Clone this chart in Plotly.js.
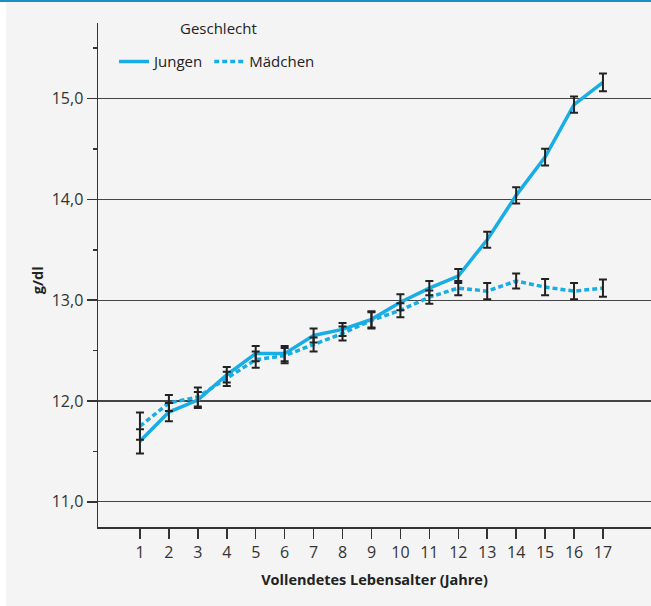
<!DOCTYPE html>
<html>
<head>
<meta charset="utf-8">
<script src="https://cdn.plot.ly/plotly-3.0.1.min.js"></script>
<style>
  html, body { margin:0; padding:0; background:#ffffff; width:651px; height:606px; overflow:hidden; }
  #topline { position:absolute; left:0; top:0; width:651px; height:2px; background:#1b8fc4; }
  #chart { position:absolute; left:6px; top:2px; width:645px; height:604px; }
</style>
</head>
<body>
<div id="topline"></div>
<div id="chart"></div>
<script>
const ages = [1,2,3,4,5,6,7,8,9,10,11,12,13,14,15,16,17];
const jungen = [11.60, 11.89, 12.01, 12.26, 12.47, 12.47, 12.65, 12.71, 12.81, 12.98, 13.12, 13.24, 13.60, 14.04, 14.42, 14.94, 15.16];
const jungenErr = [0.12, 0.09, 0.08, 0.077, 0.075, 0.075, 0.07, 0.065, 0.08, 0.08, 0.07, 0.07, 0.08, 0.08, 0.083, 0.08, 0.088];
const maedchen = [11.75, 11.98, 12.04, 12.22, 12.41, 12.45, 12.56, 12.67, 12.80, 12.90, 13.03, 13.12, 13.09, 13.19, 13.13, 13.09, 13.12];
const maedchenErr = [0.135, 0.08, 0.095, 0.07, 0.08, 0.075, 0.07, 0.07, 0.08, 0.07, 0.065, 0.07, 0.08, 0.075, 0.08, 0.08, 0.085];
const xTicks = ages;
const yTicks = [11, 12, 13, 14, 15];

const lineColor = '#19ade6';
const errColor = '#222222';
const FONT = 'Open Sans, Noto Sans, sans-serif';

const traces = [
  { x: ages, y: jungen, name: 'Jungen', type: 'scatter', mode: 'lines',
    line: { color: lineColor, width: 3.5 } },
  { x: ages, y: maedchen, name: 'Mädchen', type: 'scatter', mode: 'lines',
    line: { color: lineColor, width: 3.5, dash: '5px,3px' } },
  { x: ages, y: jungen, type: 'scatter', mode: 'markers', showlegend: false, hoverinfo: 'skip',
    marker: { opacity: 0, size: 1 },
    error_y: { type: 'data', array: jungenErr, visible: true, color: errColor, thickness: 2, width: 4 } },
  { x: ages, y: maedchen, type: 'scatter', mode: 'markers', showlegend: false, hoverinfo: 'skip',
    marker: { opacity: 0, size: 1 },
    error_y: { type: 'data', array: maedchenErr, visible: true, color: errColor, thickness: 2, width: 4 } }
];

const layout = {
  width: 645, height: 604,
  paper_bgcolor: '#f4f4f4', plot_bgcolor: '#f4f4f4',
  margin: { l: 92, r: 0, t: 21, b: 79 },
  separators: ',.',
  font: { family: FONT, size: 15, color: '#333333' },
  showlegend: true,
  legend: {
    orientation: 'h', x: 0.029, xanchor: 'left', y: 0.956, yanchor: 'top',
    bgcolor: 'rgba(0,0,0,0)',
    font: { family: FONT, size: 15, color: '#222222' },
    itemwidth: 30, tracegroupgap: 0
  },
  annotations: [
    { text: 'Geschlecht', xref: 'paper', yref: 'paper', x: 0.217, y: 0.99,
      xanchor: 'center', yanchor: 'middle', showarrow: false,
      font: { family: FONT, size: 15, color: '#222222' } },
    { text: 'g/dl', xref: 'paper', yref: 'paper', x: -0.110, y: 0.49,
      xanchor: 'center', yanchor: 'middle', showarrow: false, textangle: -90,
      font: { family: FONT, size: 14.5, color: '#222222', weight: 'bold' } }
  ],
  xaxis: {
    range: [-0.45, 18.66],
    tickmode: 'array', tickvals: xTicks, ticktext: xTicks.map(String),
    ticks: 'outside', ticklen: 10, tickwidth: 1.5, tickcolor: '#333333',
    showline: true, linecolor: '#333333', linewidth: 1.5,
    showgrid: false, zeroline: false,
    tickfont: { family: FONT, size: 16, color: '#333333' },
    title: { text: 'Vollendetes Lebensalter (Jahre)', font: { family: FONT, size: 14.5, color: '#222222', weight: 'bold' }, standoff: 13 },
    fixedrange: true
  },
  yaxis: {
    range: [10.75, 15.75],
    tickmode: 'array', tickvals: yTicks, ticktext: yTicks.map(v => v.toFixed(1).replace('.', ',')),
    ticks: 'outside', ticklen: 10, tickwidth: 1.5, tickcolor: '#333333',
    minor: { dtick: 0.5, tick0: 0.5, ticks: 'outside', ticklen: 4, tickwidth: 1.5, tickcolor: '#333333', showgrid: false },
    showline: true, linecolor: '#333333', linewidth: 1.5,
    showgrid: true, gridcolor: '#444444', gridwidth: 1.3, zeroline: false,
    tickfont: { family: FONT, size: 16, color: '#333333' },
    fixedrange: true
  }
};

Plotly.newPlot('chart', traces, layout, { displayModeBar: false, staticPlot: true });
</script>
</body>
</html>
